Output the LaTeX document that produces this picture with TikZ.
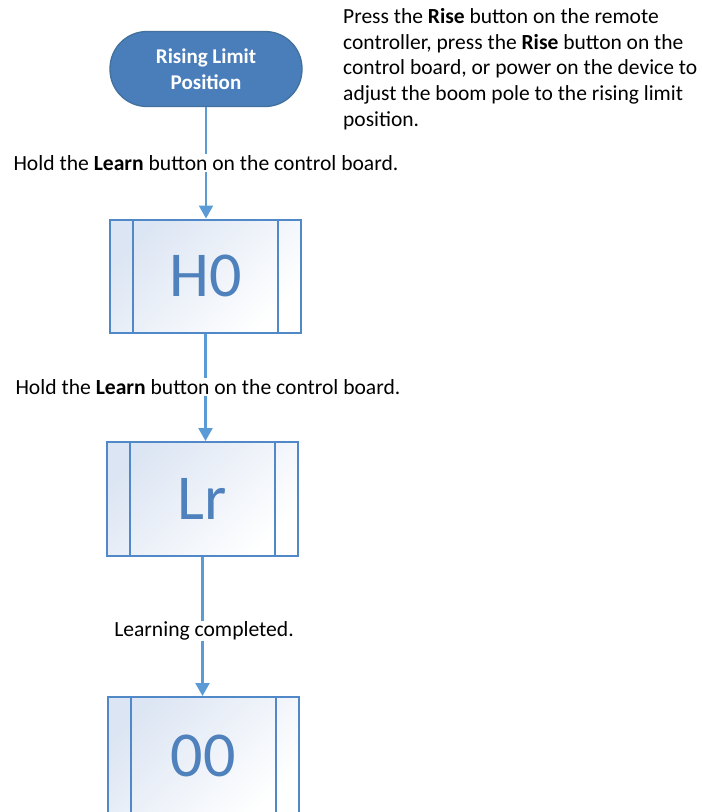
\documentclass[tikz,border=0pt]{standalone}
\usepackage{fontspec}
\setmainfont{Carlito}
\usepackage{tikz}
\usetikzlibrary{arrows.meta, positioning, calc}
\usepackage{xcolor}
\definecolor{termfill}{HTML}{4A7EBB}
\definecolor{termline}{HTML}{41719C}
\definecolor{boxline}{HTML}{5088C8}
\definecolor{boxshade}{HTML}{DCE5F3}
\definecolor{digit}{HTML}{4F81BD}
\definecolor{flow}{HTML}{5B9BD5}

\begin{document}
\begin{tikzpicture}[
    x=1pt, y=-1pt,
    term/.style={draw=termline, line width=1.3pt, fill=termfill, rounded corners=37pt,
        minimum width=192pt, minimum height=75pt, text=white, align=center,
        font=\fontsize{21}{26}\selectfont\bfseries},
    proc/.style={draw=boxline, line width=2pt, left color=boxshade, right color=white,
        shading angle=45, minimum width=191pt, minimum height=113pt,
        text=digit, font=\fontsize{64}{64}\selectfont,
        path picture={
            \draw[boxline, line width=2pt]
                ([xshift=23pt]path picture bounding box.north west) -- ([xshift=23pt]path picture bounding box.south west)
                ([xshift=-23pt]path picture bounding box.north east) -- ([xshift=-23pt]path picture bounding box.south east);
        }},
    lbl/.style={fill=white, inner sep=1pt, font=\fontsize{21.6}{25}\selectfont},
    >={Triangle[width=14pt, length=13pt]}
]
\useasboundingbox (0,0) rectangle (702,812);
% Start
\node[term] (rise) at (206,69) {Rising Limit\\Position};
\node[anchor=west, inner sep=0pt, align=left,
    font=\fontsize{21.5}{25.7}\selectfont] (note) at (343,69)
    {Press the \textbf{Rise} button on the remote\\controller, press the \textbf{Rise} button on the\\control board, or power on the device to\\adjust the boom pole to the rising limit\\position.};
% Display states
\node[proc] (h0) at (205.5,276) {H0};
\node[proc, minimum height=114pt] (lr) at (202.5,499) {Lr};
\node[proc, minimum height=118pt] (oo) at (203,756) {00};
% Arrows
\draw[->, flow, line width=2.2pt] (rise.south) -- (rise.south |- h0.north);
\draw[->, flow, line width=2.2pt] (h0.south) -- (h0.south |- lr.north);
\draw[->, flow, line width=2.2pt] (lr.south) -- (lr.south |- oo.north);
% Labels
\node[lbl] (learn1) at (206,163) {Hold the \textbf{Learn} button on the control board.};
\node[lbl] (learn2) at (208,387) {Hold the \textbf{Learn} button on the control board.};
\node[lbl] (done) at (204,631) {Learning completed.};
\end{tikzpicture}
\end{document}
